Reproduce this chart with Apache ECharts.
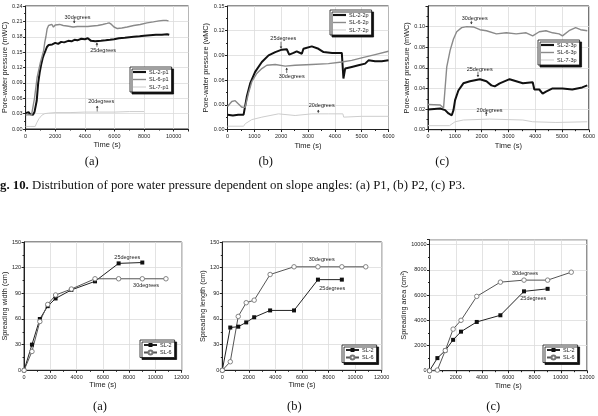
<!DOCTYPE html>
<html><head><meta charset="utf-8">
<script src="https://cdn.jsdelivr.net/npm/echarts/dist/echarts.min.js"></script>
<style>html,body{margin:0;padding:0;background:#fff}#c{width:598px;height:416px}</style>
</head><body><div id="c"></div>
<script>
// ---------- DATA ----------
// Panel (a) top: P1 pore-water pressure [time s, mWC]
const p1SL2 = [[0,0.031],[100,0.028],[200,0.033],[300,0.029],[400,0.032],[500,0.028],[600,0.033],[680,0.030],[750,0.055],[850,0.09],[950,0.11],[1060,0.127],[1150,0.138],[1220,0.144],[1330,0.152],[1440,0.16],[1560,0.164],[1660,0.166],[1800,0.165],[2000,0.168],[2200,0.166],[2400,0.170],[2600,0.169],[2880,0.172],[3100,0.171],[3300,0.174],[3500,0.173],[3760,0.176],[4000,0.175],[4200,0.177],[4300,0.174],[4420,0.172],[4700,0.171],[5090,0.172],[5400,0.173],[5700,0.174],[5970,0.175],[6300,0.177],[6700,0.178],[7000,0.179],[7300,0.180],[7700,0.181],[8000,0.182],[8400,0.183],[8800,0.184],[9200,0.184],[9560,0.185],[9700,0.184]];
const p1SL6 = [[0,0.027],[200,0.028],[400,0.027],[450,0.03],[600,0.06],[775,0.1],[1000,0.13],[1217,0.153],[1300,0.17],[1370,0.18],[1450,0.195],[1550,0.202],[1650,0.205],[1770,0.204],[1880,0.199],[2000,0.203],[2100,0.206],[2300,0.204],[2540,0.202],[2800,0.201],[3000,0.2],[3200,0.199],[3500,0.2],[3800,0.2],[4200,0.2],[4500,0.201],[4870,0.202],[5200,0.204],[5500,0.206],[5640,0.207],[5800,0.204],[5970,0.199],[6200,0.196],[6500,0.197],[6860,0.199],[7300,0.202],[7740,0.204],[8200,0.207],[8630,0.209],[9000,0.211],[9290,0.212],[9500,0.212],[9650,0.211]];
const p1SL7 = [[0,0.005],[300,0.005],[650,0.005],[750,0.012],[900,0.02],[1100,0.027],[1300,0.03],[1550,0.031],[2000,0.032],[3000,0.032],[4000,0.033],[5000,0.033],[6000,0.033],[7000,0.034],[8000,0.034]];
// Panel (b) top: P2
const p2SL2 = [[0,0.018],[200,0.017],[400,0.018],[600,0.018],[660,0.02],[720,0.04],[845,0.056],[1030,0.07],[1280,0.082],[1530,0.09],[1780,0.094],[2025,0.097],[2210,0.0975],[2260,0.096],[2300,0.091],[2460,0.093],[2580,0.095],[2770,0.092],[2830,0.098],[2895,0.1],[3140,0.101],[3390,0.098],[3450,0.096],[3580,0.094],[3900,0.093],[4260,0.093],[4320,0.062],[4385,0.074],[4630,0.076],[4880,0.078],[5130,0.08],[5200,0.08],[5255,0.084],[5500,0.083],[5750,0.083],[6000,0.084]];
const p2SL6 = [[0,0.028],[80,0.031],[160,0.034],[285,0.035],[410,0.031],[535,0.027],[660,0.027],[780,0.044],[905,0.058],[1090,0.068],[1280,0.074],[1465,0.078],[1780,0.079],[2150,0.077],[2520,0.078],[3140,0.079],[3760,0.08],[4260,0.082],[4630,0.084],[5000,0.087],[5500,0.091],[6000,0.095]];
const p2SL7 = [[0,0.004],[600,0.004],[660,0.007],[905,0.012],[1280,0.015],[1900,0.019],[2520,0.017],[3140,0.019],[3760,0.019],[4300,0.019],[4330,0.015],[5000,0.016],[6000,0.016]];
// Panel (c) top: P3
const p3SL2 = [[0,0.0197],[455,0.0206],[640,0.019],[765,0.0158],[887,0.014],[950,0.019],[1010,0.0287],[1133,0.038],[1318,0.045],[1565,0.047],[1935,0.049],[2180,0.047],[2365,0.043],[2490,0.042],[2675,0.045],[3043,0.049],[3290,0.047],[3536,0.045],[3905,0.046],[3966,0.039],[4150,0.039],[4275,0.035],[4400,0.037],[4645,0.04],[5015,0.04],[5380,0.039],[5750,0.041],[5940,0.043]];
const p3SL6 = [[0,0.0245],[455,0.024],[580,0.021],[620,0.021],[700,0.061],[825,0.077],[950,0.088],[1070,0.095],[1255,0.099],[1440,0.1],[1690,0.0997],[1935,0.097],[2180,0.096],[2550,0.093],[2920,0.094],[3290,0.093],[3660,0.094],[3905,0.091],[4150,0.095],[4400,0.096],[4645,0.094],[4890,0.093],[5015,0.091],[5260,0.096],[5505,0.099],[5690,0.097],[5940,0.096]];
const p3SL7 = [[0,0.0039],[800,0.0039],[1010,0.0077],[1318,0.0094],[2300,0.0103],[3536,0.0094],[3905,0.0077],[4770,0.007],[5940,0.0077]];
// Bottom panels: spreading
const sprTime = [0,600,1200,1800,2400,3600,5400,7200,9000,10800];
const widthSL2 = [0,30,60,75,84,94,104,125,126];
const widthSL6 = [0,22,57,77,88,95,107,107,107,107];
const lengthSL2 = [0,50,51,56,62,70,70,106,106];
const lengthSL6 = [0,10,63,79,82,112,121,121,121,121];
const areaSL2 = [0,1000,1600,2450,3100,3870,4400,6300,6500];
const areaSL6 = [0,50,1600,3300,4000,5900,7030,7190,7190,7820];

const topNames = [['SL-2-p1','SL-6-p1','SL-7-p1'],['SL-2-2p','SL-6-2p','SL-7-2p'],['SL-2-3p','SL-6-3p','SL-7-3p']];
const topYNames = ['Pore-water pressure (mWC)','Pore-water pressure (wMC)','Pore-water pressure (mWC)'];
const botYNames = ['Spreading width (cm)','Spreading length (cm)','Spreading area (cm\u00B2)'];

// ---------- CHART ----------
const FONT = 'Liberation Sans, Arial, sans-serif';
const SERIF = 'Liberation Serif, Times New Roman, serif';
const chart = echarts.init(document.getElementById('c'), null, {renderer:'canvas'});

const grids = [
  {left:23, top:6, width:165.5, height:123},
  {left:227.5, top:6, width:161, height:123.5},
  {left:428, top:6, width:162, height:123.7},
  {left:22.3, top:242, width:159.4, height:128.3},
  {left:222.3, top:242, width:159.4, height:128.3},
  {left:429.5, top:239.7, width:157.5, height:131}
].map(g => Object.assign({show:true, borderColor:'#222', borderWidth:1, backgroundColor:'#fff'}, g));

const plain = v => String(v);
function xAx(i, max, interval, nameGap) {
  return {type:'value', gridIndex:i, min:0, max:max, interval:interval,
    name:'Time (s)', nameLocation:'middle', nameGap:nameGap,
    nameTextStyle:{fontFamily:FONT, fontSize:7.5, color:'#222'},
    axisLine:{show:true, lineStyle:{color:'#222', width:1}},
    axisTick:{show:true, inside:false, length:2.5, lineStyle:{color:'#222'}},
    minorTick:{show:true, splitNumber:2, length:1.5, lineStyle:{color:'#222'}},
    axisLabel:{fontFamily:FONT, fontSize:5.5, color:'#222', margin:4, formatter:plain, showMaxLabel: max % interval === 0},
    splitLine:{show:true, lineStyle:{color:'#dcdcdc', width:0.8}}};
}
function yAx(i, max, interval, name, nameGap, fmt) {
  return {type:'value', gridIndex:i, min:0, max:max, interval:interval,
    name:name, nameLocation:'middle', nameGap:nameGap,
    nameTextStyle:{fontFamily:FONT, fontSize:7.3, color:'#222'},
    axisLine:{show:true, lineStyle:{color:'#222', width:1}},
    axisTick:{show:true, inside:false, length:2.5, lineStyle:{color:'#222'}},
    minorTick:{show:true, splitNumber:2, length:1.5, lineStyle:{color:'#222'}},
    axisLabel:{fontFamily:FONT, fontSize:5.5, color:'#222', margin:3, formatter:fmt || plain, showMaxLabel: max % interval === 0},
    splitLine:{show:true, lineStyle:{color:'#dcdcdc', width:0.8}}};
}
const f2 = v => v.toFixed(2);
const xAxes = [xAx(0,11000,2000,12), xAx(1,6000,1000,12), xAx(2,6000,1000,12),
               xAx(3,12000,2000,11), xAx(4,12000,2000,11), xAx(5,12000,2000,11)];
const yAxes = [yAx(0,0.24,0.03,topYNames[0],17,f2), yAx(1,0.15,0.03,topYNames[1],17,f2), yAx(2,0.12,0.02,topYNames[2],17,f2),
               yAx(3,150,30,botYNames[0],14), yAx(4,150,30,botYNames[1],14), yAx(5,10400,2000,botYNames[2],19)];

const series = [];
const topData = [[p1SL2,p1SL6,p1SL7],[p2SL2,p2SL6,p2SL7],[p3SL2,p3SL6,p3SL7]];
const topStyles = [{color:'#111', width:2},{color:'#8a8a8a', width:1.4},{color:'#cdcdcd', width:1}];
const topIcons = ['path://M0,0h30v5h-30z','path://M0,0h30v3.2h-30z','path://M0,0h30v2.4h-30z'];
topData.forEach((set, gi) => set.forEach((d, k) => {
  series.push({type:'line', name:topNames[gi][k], xAxisIndex:gi, yAxisIndex:gi, data:d,
    showSymbol:false, symbol:'none', animation:false, silent:true,
    itemStyle:{color:topStyles[k].color},
    lineStyle:{color:topStyles[k].color, width:topStyles[k].width}});
}));
const pair = (vals) => vals.map((v,i)=>[sprTime[i], v]);
[[widthSL2,widthSL6],[lengthSL2,lengthSL6],[areaSL2,areaSL6]].forEach((set, j) => {
  const gi = 3 + j;
  series.push({type:'line', name:'SL-2', xAxisIndex:gi, yAxisIndex:gi, data:pair(set[0]),
    symbol:'rect', symbolSize:4, animation:false, silent:true,
    itemStyle:{color:'#111'}, lineStyle:{color:'#222', width:1}});
  series.push({type:'line', name:'SL-6', xAxisIndex:gi, yAxisIndex:gi, data:pair(set[1]),
    symbol:'circle', symbolSize:4.5, animation:false, silent:true,
    itemStyle:{color:'#fff', borderColor:'#777', borderWidth:0.9}, lineStyle:{color:'#555', width:1}});
});

function leg(data, left, top) {
  return {data:data, left:left, top:top, orient:'vertical', itemWidth:13, itemHeight:5, itemGap:1.5,
    padding:[2,3,2,3], backgroundColor:'#fff', borderColor:'#111', borderWidth:0.8, borderRadius:0,
    shadowColor:'#111', shadowBlur:0, shadowOffsetX:2, shadowOffsetY:2, selectedMode:false,
    textStyle:{fontFamily:FONT, fontSize:5.5, color:'#222', padding:[0,0,0,-2]}};
}
const topLeg = gi => topNames[gi].map((n,k) => ({name:n, icon:topIcons[k], itemStyle:{color:topStyles[k].color}}));
const legends = [leg(topLeg(0),130,67), leg(topLeg(1),330,10), leg(topLeg(2),538,40),
  leg(['SL-2','SL-6'],140,340), leg(['SL-2','SL-6'],342,345), leg(['SL-2','SL-6'],543,345)];

chart.setOption({animation:false, backgroundColor:'#fff', grid:grids, xAxis:xAxes, yAxis:yAxes, series:series, legend:legends});

// ---------- ANNOTATIONS (data coordinates) ----------
const notes = [
  [0,'30degrees',3505,0.2185, 3285,0.2145,0.2068],
  [0,'25degrees',5235,0.154, 4815,0.1606,0.168],
  [0,'20degrees',5100,0.0546, 4835,0.0338,0.0449],
  [1,'25degrees',2080,0.110, 1994,0.1066,0.0986],
  [1,'30degrees',2392,0.0641, 2206,0.0686,0.0747],
  [1,'20degrees',3510,0.0294, 3384,0.020,0.0237],
  [2,'30degrees',1740,0.108, 1618,0.1057,0.1025],
  [2,'25degrees',1926,0.0586, 1863,0.0563,0.0514],
  [2,'20degrees',2296,0.0191, 2174,0.0133,0.0172],
  [3,'25degrees',7860,132],
  [3,'30degrees',9290,98.6],
  [4,'30degrees',7480,129.8],
  [4,'25degrees',8280,95.9],
  [5,'30degrees',7276,7714],
  [5,'25degrees',7909,5746]
];
const graphic = [];
notes.forEach(n => {
  const p = chart.convertToPixel({gridIndex:n[0]}, [n[2], n[3]]);
  graphic.push({type:'text', x:p[0], y:p[1], silent:true,
    style:{text:n[1], fontFamily:FONT, fontSize:5.5, fill:'#222', align:'center', verticalAlign:'middle'}});
  if (n.length > 4) {
    const a = chart.convertToPixel({gridIndex:n[0]}, [n[4], n[5]]);
    const b = chart.convertToPixel({gridIndex:n[0]}, [n[4], n[6]]);
    const dir = b[1] > a[1] ? 1 : -1;
    graphic.push({type:'line', silent:true, shape:{x1:a[0], y1:a[1], x2:b[0], y2:b[1]}, style:{stroke:'#333', lineWidth:0.7}});
    graphic.push({type:'polygon', silent:true, shape:{points:[[b[0]-1.3,b[1]-dir*1.8],[b[0]+1.3,b[1]-dir*1.8],[b[0],b[1]+dir*0.3]]}, style:{fill:'#333'}});
  }
});
// panel captions
[['(a)',91.7,162],['(b)',265.7,162],['(c)',442.3,162],['(a)',100,406.5],['(b)',294.3,406.5],['(c)',493.3,406.5]].forEach(c => {
  graphic.push({type:'text', x:c[1], y:c[2], silent:true,
    style:{text:c[0], fontFamily:SERIF, fontSize:12.5, fill:'#111', align:'center', verticalAlign:'middle'}});
});
graphic.push({type:'text', x:0, y:186, silent:true,
  style:{text:'{b|g. 10.} Distribution of pore water pressure dependent on slope angles: (a) P1, (b) P2, (c) P3.',
    fontFamily:SERIF, fontSize:12.8, fill:'#111', verticalAlign:'middle',
    rich:{b:{fontFamily:SERIF, fontSize:12.8, fontWeight:'bold', fill:'#111'}}}});
chart.setOption({graphic:graphic});
</script></body></html>
